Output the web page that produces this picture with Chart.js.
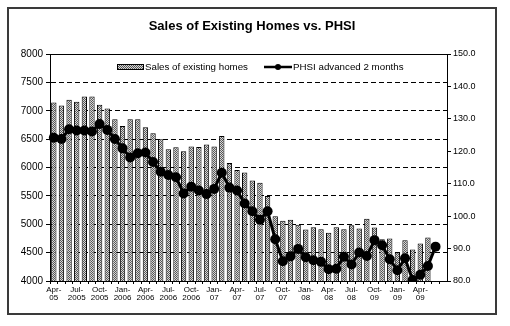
<!DOCTYPE html>
<html>
<head>
<meta charset="utf-8">
<script src="https://cdn.jsdelivr.net/npm/chart.js@4.4.0/dist/chart.umd.js"></script>
<style>
  html, body { margin: 0; padding: 0; background: #fff; }
  #wrap { width: 510px; height: 326px; }
</style>
</head>
<body>
<div id="wrap"><canvas id="chart" width="510" height="326"></canvas></div>
<script>
// Months on the category axis (Apr-05 .. Jul-09)
const months = [
  'Apr-05','May-05','Jun-05','Jul-05','Aug-05','Sep-05','Oct-05','Nov-05','Dec-05',
  'Jan-06','Feb-06','Mar-06','Apr-06','May-06','Jun-06','Jul-06','Aug-06','Sep-06','Oct-06','Nov-06','Dec-06',
  'Jan-07','Feb-07','Mar-07','Apr-07','May-07','Jun-07','Jul-07','Aug-07','Sep-07','Oct-07','Nov-07','Dec-07',
  'Jan-08','Feb-08','Mar-08','Apr-08','May-08','Jun-08','Jul-08','Aug-08','Sep-08','Oct-08','Nov-08','Dec-08',
  'Jan-09','Feb-09','Mar-09','Apr-09','May-09','Jun-09','Jul-09'
];

// Printed tick labels, one every third month
const tickLabels = [
  ['Apr-', '05'], ['Jul-', '2005'], ['Oct-', '2005'], ['Jan-', '2006'], ['Apr-', '2006'],
  ['Jul-', '2006'], ['Oct-', '2006'], ['Jan-', '07'], ['Apr-', '07'], ['Jul-', '07'],
  ['Oct-', '07'], ['Jan-', '08'], ['Apr-', '08'], ['Jul-', '08'], ['Oct-', '09'],
  ['Jan-', '09'], ['Apr-', '09']
];

// Sales of existing homes (thousands, left axis)
const sales = [
  7145, 7092, 7193, 7157, 7251, 7251, 7104, 7039, 6851, 6733, 6851, 6851,
  6710, 6604, 6498, 6321, 6357, 6286, 6371, 6362, 6406, 6371, 6556, 6079,
  5956, 5911, 5770, 5731, 5496, 5143, 5063, 5081, 4989, 4909, 4945, 4913,
  4851, 4945, 4913, 4984, 4925, 5099, 4943, 4736, 4749, 4503, 4719, 4554,
  4660, 4766, null, null
];

// PHSI advanced 2 months (right axis)
const phsi = [
  124.2, 123.8, 126.8, 126.4, 126.4, 126.1, 128.4, 126.6, 123.8, 120.9, 118.1, 119.4,
  119.6, 116.7, 113.7, 112.7, 112.0, 107.0, 109.1, 107.9, 106.8, 108.4, 113.4, 108.8,
  107.9, 103.9, 101.5, 98.9, 101.5, 92.9, 86.1, 87.6, 89.9, 87.3, 86.4, 85.9,
  83.6, 83.8, 87.5, 85.1, 88.8, 87.7, 92.6, 91.0, 86.7, 83.3, 87.0, 80.3,
  81.9, 84.6, 90.6, null
];

const FONT = "'Liberation Sans', Arial, sans-serif";

// dotted fill for the bars
function makePattern() {
  const c = document.createElement('canvas');
  c.width = 2; c.height = 2;
  const g = c.getContext('2d');
  g.fillStyle = '#d8d8d8';
  g.fillRect(0, 0, 2, 2);
  g.fillStyle = '#555555';
  g.fillRect(0, 0, 1, 1);
  g.fillRect(1, 1, 1, 1);
  return g.createPattern(c, 'repeat');
}
const barFill = makePattern();

// frame, title, plot box and the in-plot legend
const decor = {
  id: 'decor',
  beforeDraw(chart) {
    const ctx = chart.ctx;
    ctx.save();
    ctx.fillStyle = '#fff';
    ctx.fillRect(0, 0, chart.width, chart.height);
    ctx.restore();
  },
  afterDraw(chart) {
    const ctx = chart.ctx;
    const a = chart.chartArea;
    ctx.save();
    // outer frame
    ctx.strokeStyle = '#3a3a3a';
    ctx.lineWidth = 2;
    ctx.strokeRect(8, 8, 488, 306);
    // top edge of plot box
    ctx.strokeStyle = '#000';
    ctx.lineWidth = 1;
    ctx.beginPath();
    ctx.moveTo(a.left, Math.round(a.top) + 0.5);
    ctx.lineTo(a.right, Math.round(a.top) + 0.5);
    ctx.stroke();
    // title
    ctx.fillStyle = '#000';
    ctx.font = 'bold 13px ' + FONT;
    ctx.textAlign = 'center';
    ctx.textBaseline = 'alphabetic';
    ctx.fillText('Sales of Existing Homes vs. PHSI', 252, 30);
    // legend
    ctx.font = '9.75px ' + FONT;
    ctx.textAlign = 'left';
    ctx.textBaseline = 'middle';
    ctx.fillStyle = barFill;
    ctx.fillRect(117, 64, 26, 5);
    ctx.strokeRect(117.5, 64.5, 26, 5);
    ctx.fillStyle = '#000';
    ctx.fillText(chart.data.datasets[0].label, 145, 67);
    ctx.lineWidth = 2.5;
    ctx.beginPath();
    ctx.moveTo(264, 67);
    ctx.lineTo(292, 67);
    ctx.stroke();
    ctx.beginPath();
    ctx.arc(278, 67, 3, 0, Math.PI * 2);
    ctx.fill();
    ctx.fillText(chart.data.datasets[1].label, 293, 67);
    ctx.restore();
  }
};

new Chart(document.getElementById('chart'), {
  data: {
    labels: months,
    datasets: [{
      type: 'bar',
      label: 'Sales of existing homes',
      data: sales,
      yAxisID: 'y',
      backgroundColor: barFill,
      borderColor: '#000',
      borderWidth: 1,
      barPercentage: 0.7,
      categoryPercentage: 1,
      order: 2
    }, {
      type: 'line',
      label: 'PHSI advanced 2 months',
      data: phsi,
      yAxisID: 'y1',
      borderColor: '#000',
      borderWidth: 3,
      pointRadius: 5,
      pointBackgroundColor: '#000',
      pointBorderColor: '#000',
      pointBorderWidth: 0,
      tension: 0,
      order: 1
    }]
  },
  options: {
    responsive: false,
    animation: false,
    layout: { padding: { top: 54, left: 0, right: 0, bottom: 0 } },
    plugins: {
      legend: { display: false },
      title: { display: false },
      tooltip: { enabled: false }
    },
    scales: {
      x: {
        offset: true,
        grid: {
          offset: true,
          drawOnChartArea: false,
          drawTicks: true,
          tickLength: 3,
          color: '#000',
          tickBorderDash: []
        },
        border: { color: '#000', width: 1 },
        ticks: {
          autoSkip: false,
          maxRotation: 0,
          minRotation: 0,
          padding: 1,
          color: '#000',
          font: { family: FONT, size: 8, lineHeight: 1.1 },
          callback: (v, i) => (i % 3 === 0 ? tickLabels[i / 3] : '')
        },
        afterFit: s => { s.height = 45; }
      },
      y: {
        position: 'left',
        min: 4000,
        max: 8000,
        grid: {
          color: c => (c.tick && (c.tick.value === 4000 || c.tick.value === 8000)) ? 'rgba(0,0,0,0)' : '#000',
          tickColor: '#000',
          tickLength: 4,
          tickBorderDash: []
        },
        border: { color: '#000', width: 1, dash: [5, 3] },
        ticks: {
          stepSize: 500,
          padding: 3,
          color: '#000',
          font: { family: FONT, size: 10 },
          callback: v => String(v)
        },
        afterFit: s => { s.width = 50; }
      },
      y1: {
        position: 'right',
        min: 80,
        max: 150,
        grid: {
          drawOnChartArea: false,
          color: '#000',
          tickLength: 4
        },
        border: { color: '#000', width: 1 },
        ticks: {
          stepSize: 10,
          padding: 2,
          color: '#000',
          font: { family: FONT, size: 9 },
          callback: v => v.toFixed(1)
        },
        afterFit: s => { s.width = 63; }
      }
    }
  },
  plugins: [decor]
});
</script>
</body>
</html>
